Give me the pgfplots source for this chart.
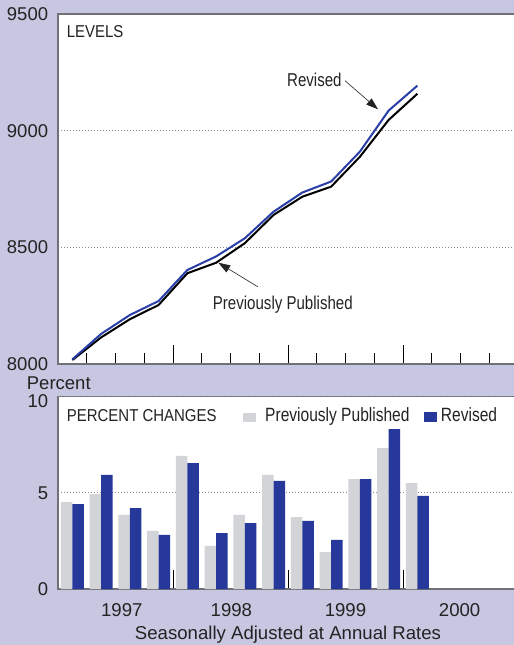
\documentclass[border=0pt]{standalone}
\usepackage{pgfplots}
\pgfplotsset{compat=1.18}
\usepackage{pgfplotstable}
\usepackage{fontspec}
\setmainfont{Liberation Sans}
\newfontfamily\cond[FakeStretch=0.81]{Liberation Sans}
\newfontfamily\semi[FakeStretch=0.87]{Liberation Sans}
\usetikzlibrary{arrows.meta}
\definecolor{bg}{RGB}{199,199,226}
\definecolor{revblue}{RGB}{38,56,154}
\definecolor{lineblue}{RGB}{42,62,168}
\definecolor{prevgray}{RGB}{211,212,215}
\definecolor{framec}{RGB}{112,112,118}
\definecolor{txt}{RGB}{35,35,35}

\pgfplotstableread{
q prev rev
0  8017 8020
1  8114 8129
2  8192 8210
3  8253 8270
4  8389 8403
5  8434 8461
6  8518 8539
7  8639 8653
8  8717 8735
9  8760 8782
10 8888 8910
11 9046 9086
12 9158 9193
}\levels

\pgfplotstableread{
q prev rev
0  4.52 4.42
1  4.94 5.93
2  3.85 4.21
3  3.02 2.81
4  6.92 6.55
5  2.24 2.91
6  3.85 3.43
7  5.93 5.62
8  3.74 3.54
9  1.92 2.55
10 5.72 5.72
11 7.33 8.32
12 5.51 4.84
}\changes

\begin{document}
\begin{tikzpicture}
\useasboundingbox (0,0) rectangle (514bp,-645bp);
\fill[bg] (0,0) rectangle (514bp,-645bp);

\pgfplotsset{
  common/.style={
    scale only axis, width=460bp,
    xmin=-0.5, xmax=15.5,
    axis background/.style={fill=white},
    axis line style={framec, line width=1.2bp},
    ymajorgrids,
    grid style={framec!80, dash pattern=on 0.8bp off 2.2bp, line width=0.8bp},
    xtick pos=left, ytick pos=left,
    tick align=inside,
    xtick style={black, line width=1bp},
    ytick style={draw=none},
    yticklabel style={font=\fontsize{18.5bp}{20bp}\selectfont, text=txt, anchor=east, inner sep=0pt, xshift=-9.7bp},
    /pgf/number format/assume math mode=true,
    /pgf/number format/1000 sep={},
  }
}

% ---------- LEVELS ----------
\begin{axis}[common,
  at={(58bp,-14bp)}, anchor=north west, height=350bp,
  ymin=8000, ymax=9500,
  ytick={8000,8500,9000,9500},
  xtick={3.5,7.5,11.5}, xticklabels={},
  minor xtick={0.5,1.5,2.5,4.5,5.5,6.5,8.5,9.5,10.5,12.5,13.5,14.5},
  major tick length=19bp, minor tick length=10.7bp,
  minor x tick style={black, line width=1bp},
]
\addplot[black, line width=2bp, line join=round] table[x=q, y=prev] {\levels};
\addplot[lineblue, line width=2bp, line join=round] table[x=q, y=rev] {\levels};
\end{axis}

% ---------- PERCENT CHANGES ----------
\begin{axis}[common,
  at={(58bp,-396.7bp)}, anchor=north west, height=192.3bp,
  ymin=0, ymax=10,
  ytick={0,5},
  extra y ticks={10},
  extra y tick style={ytick style={draw=none}, yticklabel style={yshift=-4.5bp}},
  xtick={3.5,7.5,11.5}, xticklabels={},
  major tick length=18.7bp,
  extra x ticks={1.72,5.53,9.5,13.47},
  extra x tick labels={1997,1998,1999,2000},
  extra x tick style={major tick length=0pt, xtick style={draw=none},
     xticklabel style={font=\fontsize{18.6bp}{20bp}\selectfont, text=txt, anchor=north, inner sep=0pt, yshift=-14bp}},
]
\addplot[ybar, bar width=11.4bp, bar shift=-5.7bp, fill=prevgray, draw=none] table[x=q, y=prev] {\changes};
\addplot[ybar, bar width=11.4bp, bar shift=5.7bp, fill=revblue, draw=none] table[x=q, y=rev] {\changes};
\end{axis}

% ---------- texts ----------
\node[anchor=base west, inner sep=0pt, text=txt, font=\semi\fontsize{17.2bp}{19bp}\selectfont] at (66.7bp,-37.3bp) {LEVELS};
\node[anchor=base west, inner sep=0pt, text=txt, font=\semi\fontsize{17.2bp}{19bp}\selectfont] at (66.7bp,-421bp) {PERCENT CHANGES};
\node[anchor=base west, inner sep=0pt, text=txt, font=\fontsize{18.5bp}{20bp}\selectfont] at (26.7bp,-389bp) {Percent};
\node[anchor=base, inner sep=0pt, text=txt, font=\fontsize{18.6bp}{20bp}\selectfont] at (288bp,-639.3bp) {Seasonally Adjusted at Annual Rates};

% annotations
\node[anchor=base west, inner sep=0pt, text=txt, font=\cond\fontsize{18.6bp}{20bp}\selectfont] at (287bp,-86.7bp) {Revised};
\draw[txt, line width=0.6bp, -{Triangle[length=12bp,width=8bp]}] (345bp,-80.7bp) -- (378bp,-109.3bp);
\node[anchor=base west, inner sep=0pt, text=txt, font=\cond\fontsize{18.6bp}{20bp}\selectfont] at (212.7bp,-309.3bp) {Previously Published};
\draw[txt, line width=0.6bp, -{Triangle[length=12bp,width=8bp]}] (257.7bp,-286.7bp) -- (218.3bp,-262.7bp);

% legend
\fill[prevgray] (242.7bp,-413.4bp) rectangle (256bp,-421.7bp);
\node[anchor=base west, inner sep=0pt, text=txt, font=\cond\fontsize{19.2bp}{20bp}\selectfont] at (265bp,-421.7bp) {Previously Published};
\fill[revblue] (424.3bp,-412.3bp) rectangle (436.7bp,-421.7bp);
\node[anchor=base west, inner sep=0pt, text=txt, font=\cond\fontsize{19.2bp}{20bp}\selectfont] at (440.7bp,-421.7bp) {Revised};
\end{tikzpicture}
\end{document}
